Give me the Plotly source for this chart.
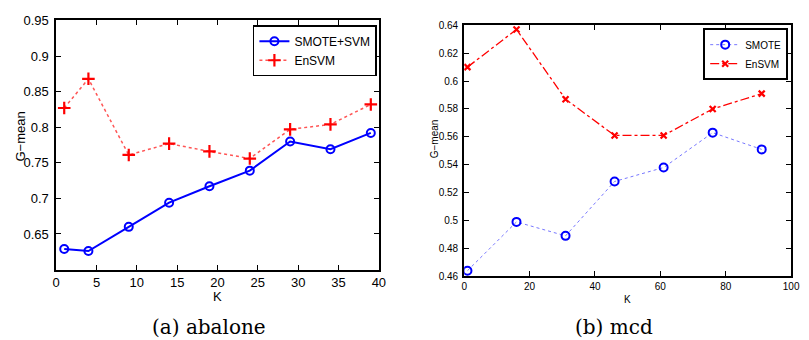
import plotly.graph_objects as go

# (a) abalone
k_a = [1, 4, 9, 14, 19, 24, 29, 34, 39]
smote_svm_a = [0.629, 0.626, 0.660, 0.694, 0.717, 0.739, 0.780, 0.769, 0.792]
ensvm_a = [0.827, 0.868, 0.761, 0.777, 0.766, 0.756, 0.797, 0.804, 0.832]

# (b) mcd
k_b = [1, 16, 31, 46, 61, 76, 91]
smote_b = [0.464, 0.499, 0.489, 0.528, 0.538, 0.563, 0.551]
ensvm_b = [0.610, 0.637, 0.587, 0.561, 0.561, 0.580, 0.591]

ytick_a = [0.65, 0.7, 0.75, 0.8, 0.85, 0.9, 0.95]
ytext_a = ["0.65", "0.7", "0.75", "0.8", "0.85", "0.9", "0.95"]
xtick_a = [0, 5, 10, 15, 20, 25, 30, 35, 40]
ytick_b = [0.46, 0.48, 0.5, 0.52, 0.54, 0.56, 0.58, 0.6, 0.62, 0.64]
ytext_b = ["0.46", "0.48", "0.5", "0.52", "0.54", "0.56", "0.58", "0.6", "0.62", "0.64"]
xtick_b = [0, 20, 40, 60, 80, 100]

W, H = 809, 340
fig = go.Figure()

fig.add_trace(go.Scatter(x=k_a, y=smote_svm_a, name="SMOTE+SVM", mode="lines+markers",
                         line=dict(color="#0000ff", width=2),
                         marker=dict(symbol="circle-open", size=8, color="#0000ff", line=dict(width=2)),
                         xaxis="x", yaxis="y", legend="legend"))
fig.add_trace(go.Scatter(x=k_a, y=ensvm_a, name="EnSVM", mode="lines+markers",
                         line=dict(color="#ff5555", width=1.5, dash="dot"),
                         marker=dict(symbol="cross-thin", size=9, color="#ff0000", line=dict(width=2.2, color="#ff0000")),
                         xaxis="x", yaxis="y", legend="legend"))
fig.add_trace(go.Scatter(x=k_b, y=smote_b, name="SMOTE", mode="lines+markers",
                         line=dict(color="#7777ff", width=1, dash="dot"),
                         marker=dict(symbol="circle-open", size=8, color="#0000ff", line=dict(width=2)),
                         xaxis="x2", yaxis="y2", legend="legend2"))
fig.add_trace(go.Scatter(x=k_b, y=ensvm_b, name="EnSVM", mode="lines+markers",
                         line=dict(color="#ff0000", width=1.3, dash="dashdot"),
                         marker=dict(symbol="x-thin", size=6, color="#ff0000", line=dict(width=2.2, color="#ff0000")),
                         xaxis="x2", yaxis="y2", legend="legend2"))

def ax(**kw):
    d = dict(showgrid=False, zeroline=False, showline=True, linecolor="black", mirror="allticks",
             ticks="inside", ticklen=5, tickcolor="black")
    d.update(kw)
    return d

fa = dict(family="Liberation Sans, Arial, sans-serif", size=13, color="black")
fb = dict(family="Liberation Sans, Arial, sans-serif", size=10, color="black")

fig.update_layout(
    width=W, height=H, margin=dict(l=0, r=0, t=0, b=0),
    paper_bgcolor="white", plot_bgcolor="white",
    xaxis=ax(domain=[53 / W, 381 / W], range=[0, 40], tickvals=xtick_a, linewidth=1.5,
             tickfont=fa, anchor="y", ticklabelstandoff=0),
    yaxis=ax(domain=[1 - 273 / H, 1 - 14 / H], range=[0.6, 0.95], tickvals=ytick_a, ticktext=ytext_a,
             linewidth=1.5, tickfont=fa, anchor="x", ticklabelstandoff=3),
    xaxis2=ax(domain=[467.7 / W, 800 / W], range=[0, 100], tickvals=xtick_b, linewidth=2,
              tickfont=fb, anchor="y2", ticklabelstandoff=0),
    yaxis2=ax(domain=[1 - 280 / H, 1 - 19 / H], range=[0.46, 0.64], tickvals=ytick_b, ticktext=ytext_b,
              linewidth=2, tickfont=fb, anchor="x2", ticklabelstandoff=2),
    legend=dict(x=379 / W, y=1 - 19 / H, xanchor="right", yanchor="top", bgcolor="white",
                bordercolor="black", borderwidth=1.5, font=dict(family="Liberation Sans, Arial", size=12, color="black"),
                tracegroupgap=0, itemwidth=30),
    legend2=dict(x=797 / W, y=1 - 22 / H, xanchor="right", yanchor="top", bgcolor="white",
                 bordercolor="black", borderwidth=2, font=dict(family="Liberation Sans, Arial", size=10, color="black"),
                 tracegroupgap=0, itemwidth=30),
    showlegend=True,
)

serif = dict(family="DejaVu Serif, Liberation Serif, serif", size=20, color="black")
anns = [
    dict(text="(a) abalone", x=208 / W, y=1 - 333 / H, font=serif),
    dict(text="(b) mcd", x=620 / W, y=1 - 333 / H, font=serif),
    dict(text="K", x=216.7 / W, y=1 - 301.5 / H, font=fa),
    dict(text="K", x=634 / W, y=1 - 304 / H, font=fb),
    dict(text="G\u2212mean", x=17 / W, y=1 - 135 / H, font=fa, textangle=-90),
    dict(text="G\u2212mean", x=437 / W, y=1 - 136.5 / H, font=fb, textangle=-90),
]
for a in anns:
    fig.add_annotation(xref="paper", yref="paper", showarrow=False, xanchor="center", yanchor="middle",
                       borderpad=0, **a)

fig.write_html("out.html")
